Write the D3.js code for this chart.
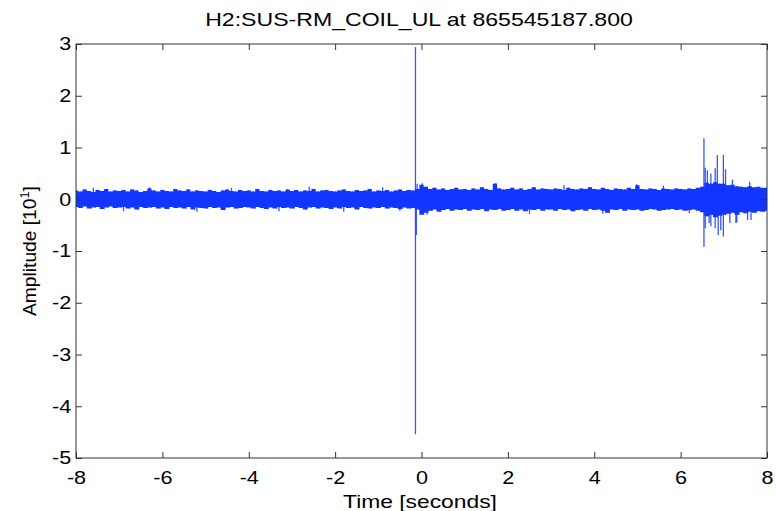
<!DOCTYPE html>
<html>
<head>
<meta charset="utf-8">
<script src="https://cdn.jsdelivr.net/npm/d3@7/dist/d3.min.js"></script>
<style>
  body { margin: 0; background: #fff; }
  text { font-family: "Liberation Sans", Arial, Helvetica, sans-serif; fill: #000; }
</style>
</head>
<body>
<div id="chart"></div>
<script>
// Tick values
const xTicks = [-8, -6, -4, -2, 0, 2, 4, 6, 8];
const yTicks = [-5, -4, -3, -2, -1, 0, 1, 2, 3];

// Noise band: upper / lower envelope every 0.1 s from -8 s
const bandStart = -8;
const bandStep = 0.1;
const bandHigh = [
  0.17, 0.15, 0.19, 0.16, 0.14, 0.18, 0.16, 0.20, 0.15, 0.17,
  0.16, 0.18, 0.15, 0.19, 0.17, 0.14, 0.16, 0.21, 0.17, 0.15,
  0.18, 0.16, 0.15, 0.20, 0.17, 0.16, 0.19, 0.15, 0.17, 0.16,
  0.15, 0.18, 0.16, 0.14, 0.17, 0.19, 0.16, 0.15, 0.18, 0.16,
  0.17, 0.15, 0.20, 0.16, 0.15, 0.18, 0.16, 0.17, 0.15, 0.19,
  0.16, 0.18, 0.15, 0.17, 0.16, 0.20, 0.15, 0.17, 0.18, 0.16,
  0.15, 0.17, 0.19, 0.16, 0.15, 0.18, 0.16, 0.17, 0.20, 0.15,
  0.17, 0.16, 0.18, 0.15, 0.17, 0.19, 0.16, 0.18, 0.17, 0.20,
  0.28, 0.24, 0.20, 0.22, 0.19, 0.21, 0.18, 0.20, 0.22, 0.19,
  0.20, 0.18, 0.21, 0.19, 0.23, 0.20, 0.18, 0.30, 0.21, 0.19,
  0.20, 0.22, 0.19, 0.21, 0.18, 0.20, 0.23, 0.19, 0.21, 0.20,
  0.19, 0.21, 0.20, 0.18, 0.22, 0.20, 0.19, 0.21, 0.20, 0.23,
  0.20, 0.19, 0.22, 0.20, 0.18, 0.21, 0.20, 0.19, 0.22, 0.20,
  0.27, 0.20, 0.19, 0.21, 0.20, 0.18, 0.21, 0.20, 0.19, 0.21,
  0.20, 0.19, 0.21, 0.20, 0.22, 0.24, 0.32, 0.30, 0.33, 0.30,
  0.30, 0.27, 0.28, 0.25, 0.24, 0.23, 0.25, 0.23, 0.24, 0.22,
  0.22
];
const bandLow = [
  -0.15, -0.17, -0.14, -0.18, -0.16, -0.15, -0.19, -0.16, -0.14, -0.17,
  -0.16, -0.15, -0.18, -0.16, -0.20, -0.15, -0.17, -0.16, -0.15, -0.18,
  -0.16, -0.19, -0.15, -0.17, -0.16, -0.18, -0.15, -0.20, -0.16, -0.17,
  -0.18, -0.15, -0.17, -0.16, -0.21, -0.16, -0.15, -0.18, -0.17, -0.15,
  -0.16, -0.18, -0.15, -0.17, -0.19, -0.16, -0.18, -0.15, -0.17, -0.16,
  -0.18, -0.15, -0.17, -0.20, -0.16, -0.15, -0.18, -0.16, -0.17, -0.19,
  -0.16, -0.18, -0.15, -0.17, -0.16, -0.20, -0.15, -0.17, -0.18, -0.16,
  -0.17, -0.15, -0.18, -0.16, -0.17, -0.19, -0.16, -0.18, -0.17, -0.20,
  -0.30, -0.26, -0.22, -0.20, -0.24, -0.21, -0.19, -0.22, -0.20, -0.21,
  -0.19, -0.22, -0.20, -0.21, -0.19, -0.23, -0.20, -0.21, -0.19, -0.22,
  -0.21, -0.19, -0.22, -0.20, -0.23, -0.20, -0.21, -0.19, -0.22, -0.20,
  -0.20, -0.22, -0.19, -0.21, -0.20, -0.23, -0.21, -0.20, -0.22, -0.19,
  -0.21, -0.20, -0.22, -0.26, -0.20, -0.21, -0.19, -0.22, -0.20, -0.21,
  -0.20, -0.22, -0.21, -0.19, -0.20, -0.22, -0.21, -0.20, -0.19, -0.21,
  -0.20, -0.22, -0.21, -0.20, -0.22, -0.25, -0.33, -0.30, -0.35, -0.32,
  -0.30, -0.28, -0.26, -0.30, -0.25, -0.27, -0.24, -0.26, -0.23, -0.24,
  -0.22
];

// Isolated excursions (time s, value)
const spikeTimes = [
  -0.14, -0.14, -0.12, -0.10, 0.02, 0.13, 1.72, 4.98,
  6.54, 6.54, 6.57, 6.57, 6.62, 6.66, 6.70, 6.70, 6.80, 6.80, 6.85, 6.87,
  6.93, 6.99, 6.99, 7.04, 7.14, 7.20, 7.28, 7.30, 7.55, 7.60, 7.63,
  -7.6, -6.9, -6.3, -5.2, -4.4, -3.3, -2.6, -1.8, -0.9, -0.5,
  2.5, 3.3, 4.2, 5.6, 6.2
];
const spikeValues = [
  2.94, -4.54, -0.69, 0.30, 0.31, -0.30, 0.31, 0.29,
  1.18, -0.92, 0.61, -0.56, 0.56, -0.46, 0.50, -0.52, 0.60, -0.56, 0.855, -0.69,
  -0.60, 0.855, -0.72, 0.58, -0.46, 0.38, -0.46, -0.45, -0.40, 0.34, -0.40,
  0.22, -0.23, 0.23, -0.24, 0.22, -0.23, 0.24, -0.24, 0.23, -0.22,
  -0.28, 0.27, -0.28, 0.26, -0.27
];

const titleText = "H2:SUS-RM_COIL_UL at 865545187.800";
const xLabel = "Time [seconds]";

const W = 776, H = 511;
const margin = { top: 44, right: 9, bottom: 53, left: 76 };
const plotW = W - margin.left - margin.right;
const plotH = H - margin.top - margin.bottom;
const lineColor = "#1236ff";
const fontStretch = 1.2;

const x = d3.scaleLinear().domain([-8, 8]).range([0, plotW]);
const y = d3.scaleLinear().domain([-5, 3]).range([plotH, 0]);

const svg = d3.select("#chart").append("svg")
  .attr("width", W)
  .attr("height", H);

const g = svg.append("g")
  .attr("transform", "translate(" + margin.left + "," + margin.top + ")");

g.append("clipPath").attr("id", "clip")
  .append("rect").attr("width", plotW).attr("height", plotH);

const plot = g.append("g").attr("clip-path", "url(#clip)");

// Solid core of the noise band
const band = bandHigh.map((hi, i) => ({ t: bandStart + i * bandStep, hi: hi, lo: bandLow[i] }));
plot.append("path")
  .datum(band)
  .attr("fill", lineColor)
  .attr("d", d3.area().curve(d3.curveStep)
    .x(d => x(d.t)).y0(d => y(d.lo)).y1(d => y(d.hi)));

// Zig-zag trace over the envelope for the ragged edges
const trace = [];
band.forEach(d => {
  trace.push([d.t, d.hi]);
  trace.push([d.t + bandStep / 2, d.lo]);
});
plot.append("path")
  .datum(trace)
  .attr("fill", "none")
  .attr("stroke", lineColor)
  .attr("stroke-opacity", 0.7)
  .attr("stroke-width", 1)
  .attr("d", d3.line().x(d => x(d[0])).y(d => y(d[1])));

plot.selectAll("line.spike")
  .data(spikeTimes.map((t, i) => [t, spikeValues[i]]))
  .join("line")
  .attr("class", "spike")
  .attr("x1", d => x(d[0]))
  .attr("x2", d => x(d[0]))
  .attr("y1", y(0))
  .attr("y2", d => y(d[1]))
  .attr("stroke", lineColor)
  .attr("stroke-opacity", 0.85)
  .attr("stroke-width", 1.3);

// Axes, ticks pointing inwards on all four sides
const tickLen = 6;
const axisColor = "#333";

const xAxis = g.append("g")
  .attr("transform", "translate(0," + plotH + ")")
  .call(d3.axisBottom(x).tickValues(xTicks).tickSize(-tickLen).tickPadding(13));
const yAxis = g.append("g")
  .call(d3.axisLeft(y).tickValues(yTicks).tickSize(-tickLen).tickPadding(4));
const xTop = g.append("g")
  .call(d3.axisTop(x).tickValues(xTicks).tickSize(-tickLen).tickFormat(""));
const yRight = g.append("g")
  .attr("transform", "translate(" + plotW + ",0)")
  .call(d3.axisRight(y).tickValues(yTicks).tickSize(-tickLen).tickFormat(""));

[xAxis, yAxis, xTop, yRight].forEach(a => {
  a.select(".domain").remove();
  a.selectAll(".tick line").attr("stroke", axisColor);
  a.selectAll("text")
    .style("font-family", "'Liberation Sans', Arial, sans-serif")
    .style("font-size", "18px")
    .attr("fill", "#000");
});
// plain hyphen for negatives, glyphs widened like the original render
xAxis.selectAll("text").text(d => String(d)).attr("transform", "scale(" + fontStretch + ",1)");
yAxis.selectAll("text").text(d => String(d)).attr("transform", "scale(" + fontStretch + ",1)");

g.append("rect")
  .attr("width", plotW)
  .attr("height", plotH)
  .attr("fill", "none")
  .attr("stroke", axisColor)
  .attr("stroke-width", 1);

// Title and axis labels, stretched to the widths in the original
function fitWidth(sel, cx, cy, target, rotate) {
  const len = sel.node().getComputedTextLength();
  sel.attr("transform", "translate(" + cx + "," + cy + ")" +
    (rotate ? " rotate(-90)" : "") + " scale(" + (target / len) + ",1)");
}

const title = svg.append("text")
  .attr("text-anchor", "middle")
  .style("font-size", "18px")
  .text(titleText);
fitWidth(title, 419, 26, 428, false);

const xl = svg.append("text")
  .attr("text-anchor", "middle")
  .style("font-size", "18px")
  .text(xLabel);
fitWidth(xl, 420, 508, 154, false);

const yl = svg.append("text")
  .attr("text-anchor", "middle")
  .style("font-size", "18px");
yl.append("tspan").text("Amplitude [10");
yl.append("tspan").attr("dy", -7).style("font-size", "12px").text("1");
yl.append("tspan").attr("dy", 7).text("]");
fitWidth(yl, 36, 251, 130, true);
</script>
</body>
</html>
